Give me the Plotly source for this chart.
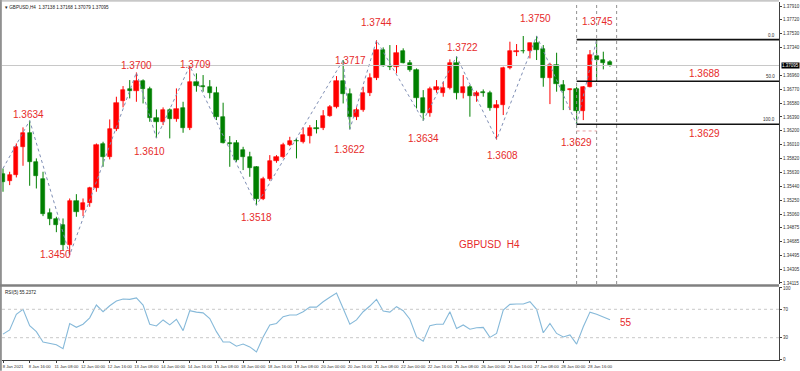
import plotly.graph_objects as go

# ---------------- data ----------------
symbol_title = "GBPUSD,H4  1.37138 1.37168 1.37079 1.37095"
rsi_title = "RSI(5) 55.2372"
chart_caption = "GBPUSD  H4"

time_labels = ["8 Jan 2021", "8 Jan 16:00", "11 Jan 08:00", "12 Jan 00:00", "12 Jan 16:00",
               "13 Jan 08:00", "14 Jan 00:00", "14 Jan 16:00", "15 Jan 08:00", "18 Jan 00:00",
               "18 Jan 16:00", "19 Jan 08:00", "20 Jan 00:00", "20 Jan 16:00", "21 Jan 08:00",
               "22 Jan 00:00", "22 Jan 16:00", "25 Jan 08:00", "26 Jan 00:00", "26 Jan 16:00",
               "27 Jan 08:00", "28 Jan 00:00", "28 Jan 16:00"]
bars_per_label = 4

opens = [1.35607, 1.35511, 1.35593, 1.35981, 1.36164, 1.35767, 1.35534, 1.35076, 1.34990, 1.34916,
         1.34629, 1.35236, 1.35113, 1.35214, 1.35410, 1.36018, 1.35844, 1.36219, 1.36608, 1.36767,
         1.36745, 1.36882, 1.36772, 1.36370, 1.36324, 1.36484, 1.36356, 1.36507, 1.36233, 1.36864,
         1.36818, 1.36804, 1.36722, 1.36393, 1.36036, 1.36027, 1.35936, 1.35844, 1.35707, 1.35264,
         1.35533, 1.35789, 1.35835, 1.36004, 1.36063, 1.36050, 1.36127, 1.36233, 1.36233, 1.36406,
         1.36521, 1.36882, 1.36703, 1.36393, 1.36484, 1.36713, 1.36918, 1.37307, 1.37092, 1.37078,
         1.37293, 1.37133, 1.37032, 1.36644, 1.36438, 1.36758, 1.36722, 1.36790, 1.37124, 1.36713,
         1.36804, 1.36676, 1.36736, 1.36722, 1.36507, 1.36553, 1.37055, 1.37275, 1.37297, 1.37293,
         1.37398, 1.37316, 1.36918, 1.37101, 1.36827, 1.36758, 1.36767, 1.36475, 1.36804, 1.37224,
         1.37170, 1.37138]
highs = [1.35684, 1.35639, 1.36027, 1.36247, 1.36340, 1.35822, 1.35639, 1.35136, 1.35022, 1.34999,
         1.35273, 1.35332, 1.35273, 1.35433, 1.36027, 1.36050, 1.36356, 1.36667, 1.36813, 1.36895,
         1.37000, 1.36905, 1.36804, 1.36493, 1.36521, 1.36507, 1.36781, 1.36598, 1.37090, 1.36987,
         1.36964, 1.36895, 1.36804, 1.36585, 1.36128, 1.36073, 1.35981, 1.35913, 1.35716, 1.35570,
         1.35867, 1.35867, 1.36036, 1.36118, 1.36096, 1.36247, 1.36278, 1.36347, 1.36484, 1.36553,
         1.36950, 1.37170, 1.36781, 1.36521, 1.36804, 1.36987, 1.37440, 1.37343, 1.37375, 1.37375,
         1.37330, 1.37170, 1.37055, 1.36758, 1.36804, 1.36895, 1.36873, 1.37179, 1.37220, 1.36964,
         1.36827, 1.36749, 1.36767, 1.36749, 1.36621, 1.37078, 1.37421, 1.37389, 1.37499, 1.37407,
         1.37500, 1.37375, 1.37133, 1.37270, 1.36895, 1.36781, 1.36804, 1.36813, 1.37307, 1.37450,
         1.37284, 1.37168]
lows = [1.35365, 1.35456, 1.35561, 1.35721, 1.35447, 1.35410, 1.35031, 1.34907, 1.34811, 1.34565,
        1.34500, 1.35022, 1.35031, 1.35159, 1.35365, 1.35707, 1.35808, 1.36196, 1.36521, 1.36644,
        1.36598, 1.36575, 1.36324, 1.36100, 1.36278, 1.36096, 1.36324, 1.36173, 1.36210, 1.36736,
        1.36736, 1.36644, 1.36347, 1.36027, 1.35707, 1.35776, 1.35662, 1.35570, 1.35180, 1.35250,
        1.35515, 1.35762, 1.35822, 1.35990, 1.35822, 1.36027, 1.36027, 1.36164, 1.36210, 1.36393,
        1.36507, 1.36575, 1.36220, 1.36347, 1.36461, 1.36676, 1.36895, 1.37078, 1.37032, 1.36987,
        1.37124, 1.37010, 1.36507, 1.36340, 1.36393, 1.36722, 1.36667, 1.36767, 1.36630, 1.36644,
        1.36393, 1.36598, 1.36667, 1.36475, 1.36080, 1.36416, 1.37042, 1.37224, 1.37261, 1.37192,
        1.37170, 1.36804, 1.36566, 1.36736, 1.36484, 1.36484, 1.36290, 1.36347, 1.36795, 1.36873,
        1.37042, 1.37079]
closes = [1.35502, 1.35593, 1.35981, 1.36164, 1.35767, 1.35584, 1.35067, 1.34990, 1.34907, 1.34629,
          1.35236, 1.35090, 1.35214, 1.35410, 1.36004, 1.35844, 1.36219, 1.36585, 1.36758, 1.36745,
          1.36882, 1.36772, 1.36370, 1.36324, 1.36484, 1.36356, 1.36493, 1.36233, 1.36873, 1.36818,
          1.36799, 1.36722, 1.36393, 1.36036, 1.36018, 1.35799, 1.35835, 1.35684, 1.35264, 1.35533,
          1.35789, 1.35835, 1.36004, 1.36063, 1.36059, 1.36141, 1.36233, 1.36228, 1.36406, 1.36521,
          1.36882, 1.36703, 1.36393, 1.36484, 1.36713, 1.36918, 1.37307, 1.37087, 1.37069, 1.37270,
          1.37133, 1.37032, 1.36644, 1.36438, 1.36767, 1.36804, 1.36790, 1.37124, 1.36713, 1.36804,
          1.36676, 1.36722, 1.36722, 1.36507, 1.36553, 1.37055, 1.37293, 1.37297, 1.37293, 1.37398,
          1.37307, 1.36918, 1.37101, 1.36841, 1.36749, 1.36776, 1.36475, 1.36804, 1.37238, 1.37170,
          1.37124, 1.37095]

rsi5 = [35, 41, 63, 70, 47, 38.5, 24, 22, 20, 14.5, 50, 44.6, 49, 58, 76, 66.6, 75, 81.7, 84.5, 84,
        86, 76, 49, 46.5, 55, 48, 56, 40, 68, 66, 65, 57, 38.5, 24, 24, 18, 21, 17, 10, 31,
        48, 50, 59.6, 62, 62, 66.6, 73, 73, 80.7, 87, 93, 71, 49, 55, 66.6, 74.6, 84, 67.6, 66, 73.7,
        68, 56, 31, 25, 47, 49, 49, 66.6, 43, 48, 42, 44, 44.6, 30.5, 36, 69, 77, 77.5, 77.5, 80.7,
        70, 37, 50, 36, 31, 34, 21, 45.5, 66, 63, 59.6, 55.24]
rsi_levels = [30, 70]

swing_idx = [0, 4, 10, 20, 23, 28, 38, 51, 52, 56, 63, 68, 74, 80, 86, 89]
swing_price = [1.35684, 1.3634, 1.3450, 1.3700, 1.3610, 1.3709, 1.3518, 1.3717, 1.3622,
               1.3744, 1.3634, 1.3722, 1.3608, 1.3750, 1.3629, 1.3745]

fib_names = ["0.0", "50.0", "100.0"]
fib_levels = [1.3745, 1.3688, 1.3629]
fib_time_idx = [86, 89, 92]
fib_marker_price = 1.36198

price_ticks = [1.37910, 1.37720, 1.37530, 1.37340, 1.36960, 1.36770, 1.36580, 1.36390, 1.36200,
               1.36010, 1.35820, 1.35630, 1.35440, 1.35250, 1.35060, 1.34875, 1.34685, 1.34495,
               1.34305, 1.34115]
rsi_ticks = [0, 30, 70, 100]

# ---------------- styles ----------------
UP = "#ff0000"
DOWN = "#008000"
LABEL_RED = "#e62a2a"
FONT = "Liberation Sans"
AXIS_TXT = "#303030"

n = len(closes)
idx = list(range(n))
up = [i for i in idx if closes[i] >= opens[i]]
dn = [i for i in idx if closes[i] < opens[i]]

fig = go.Figure()


def wick_xy(ids):
    xs, ys = [], []
    for i in ids:
        xs += [i, i, None]
        ys += [lows[i], highs[i], None]
    return xs, ys


for ids, col in ((up, UP), (dn, DOWN)):
    wx, wy = wick_xy(ids)
    fig.add_trace(go.Scatter(x=wx, y=wy, mode="lines", line=dict(color=col, width=1),
                             xaxis="x2", yaxis="y", hoverinfo="skip", showlegend=False))
for ids, col in ((up, UP), (dn, DOWN)):
    fig.add_trace(go.Bar(x=ids,
                         base=[min(opens[i], closes[i]) for i in ids],
                         y=[abs(closes[i] - opens[i]) for i in ids],
                         width=0.64, marker=dict(color=col, line=dict(color=col, width=0.6)),
                         xaxis="x2", yaxis="y", showlegend=False))

# zigzag
fig.add_trace(go.Scatter(x=swing_idx, y=swing_price, mode="lines",
                         line=dict(color="#7f8fb5", width=1, dash="dot"),
                         xaxis="x2", yaxis="y", showlegend=False, hoverinfo="skip"))

# RSI
fig.add_trace(go.Scatter(x=idx, y=rsi5, mode="lines", line=dict(color="#86b9d9", width=1.1),
                         xaxis="x", yaxis="y2", showlegend=False))

# ---------------- layout ----------------
W, H = 800, 371
ml, mr, mt, mb = 2, 21, 2, 11
plot_h = H - mt - mb
px_per_bar = 6.67
x_start = -0.15
x_end = x_start + (W - ml - mr) / px_per_bar

main_dom = [(H - mb - 284) / plot_h, 1]
rsi_dom = [0, (H - mb - 287) / plot_h]

fig.update_layout(
    width=W, height=H, margin=dict(l=ml, r=mr, t=mt, b=mb, autoexpand=False),
    paper_bgcolor="white", plot_bgcolor="white", barmode="overlay", bargap=0,
    font=dict(family=FONT, color=AXIS_TXT, size=5),
    xaxis=dict(domain=[0, 1], anchor="y2", range=[x_start, x_end],
               tickvals=[k * bars_per_label for k in range(len(time_labels))], ticktext=time_labels,
               tickangle=0,
               tickfont=dict(size=4.2, color=AXIS_TXT), ticks="outside", ticklen=2, tickcolor="#404040",
               ticklabelshift=10, ticklabelstandoff=0, showgrid=False, zeroline=False,
               showline=True, linecolor="#404040", linewidth=1),
    xaxis2=dict(domain=[0, 1], anchor="y", matches="x", range=[x_start, x_end],
                showticklabels=False, showgrid=False, zeroline=False, ticks=""),
    yaxis=dict(domain=main_dom, side="right", anchor="x2",
               range=[1.34101, 1.37965], tickvals=price_ticks,
               ticktext=[f"{v:.5f}" for v in price_ticks],
               tickfont=dict(size=4.5, color=AXIS_TXT), ticks="outside", ticklen=2, tickcolor="#404040",
               showgrid=False, zeroline=False, showline=True, linecolor="#404040", linewidth=1),
    yaxis2=dict(domain=rsi_dom, side="right", anchor="x", range=[-1.4, 101.4],
                tickvals=rsi_ticks, ticktext=[str(v) for v in rsi_ticks],
                tickfont=dict(size=4.5, color=AXIS_TXT), ticks="outside", ticklen=2, tickcolor="#404040",
                showgrid=False, zeroline=False, showline=True, linecolor="#404040", linewidth=1),
)

shapes = []
# frame
shapes.append(dict(type="line", xref="paper", yref="paper", x0=-0.0015, x1=-0.0015, y0=-0.03, y1=1.01,
                   line=dict(color="#909090", width=2)))
shapes.append(dict(type="line", xref="paper", yref="paper", x0=-0.01, x1=1.0, y0=1.003, y1=1.003,
                   line=dict(color="#a0a0a0", width=1)))
# panel separator
sep_y = (H - mb - 285.5) / plot_h
shapes.append(dict(type="line", xref="paper", yref="paper", x0=-0.01, x1=1.0, y0=sep_y, y1=sep_y,
                   line=dict(color="#808080", width=2.5)))
# current price line
shapes.append(dict(type="line", xref="paper", yref="y", x0=0, x1=1, y0=closes[-1], y1=closes[-1],
                   line=dict(color="#c8c8c8", width=1)))
# RSI levels
for lv in rsi_levels:
    shapes.append(dict(type="line", xref="paper", yref="y2", x0=0, x1=1, y0=lv, y1=lv,
                       line=dict(color="#c8c8c8", width=1, dash="dot")))
# fibo verticals
for fi in fib_time_idx:
    shapes.append(dict(type="line", xref="x2", yref="y domain", x0=fi, x1=fi, y0=0, y1=1,
                       line=dict(color="#909090", width=1, dash="dot")))
# fibo levels
for lv in fib_levels:
    shapes.append(dict(type="line", xref="x2", yref="y", x0=fib_time_idx[0], x1=x_end + 1, y0=lv, y1=lv,
                       line=dict(color="#111111", width=1.6)))
shapes.append(dict(type="line", xref="x2", yref="y", x0=fib_time_idx[0], x1=fib_time_idx[1],
                   y0=fib_marker_price, y1=fib_marker_price,
                   line=dict(color="#e8a0a0", width=1, dash="dot")))
fig.update_layout(shapes=shapes)

ann = []
# swing labels (positions relative to the swing points)
label_shift = {4: (-1, 6), 10: (-14, 0), 20: (0, 7), 23: (-7, -13), 28: (6, 1), 38: (0, -12),
               51: (7, 0), 52: (0, -20), 56: (0, 18), 63: (0, -18), 68: (6, 9), 74: (6, -16),
               80: (-1, 17), 86: (0, -18), 89: (1, 18)}
for i, p in zip(swing_idx, swing_price):
    if i not in label_shift:
        continue
    dx, dy = label_shift[i]
    ann.append(dict(x=i, y=p, xref="x2", yref="y", text=f"{p:.4f}", showarrow=False,
                    xshift=dx, yshift=dy, font=dict(family=FONT, size=10, color=LABEL_RED)))
# fib price labels
for lv, dy in ((fib_levels[1], 8), (fib_levels[2], -9)):
    ann.append(dict(x=105.1, y=lv, xref="x2", yref="y", text=f"{lv:.4f}", showarrow=False,
                    yshift=dy, font=dict(family=FONT, size=10, color=LABEL_RED)))
# fib level names
for nm, lv in zip(fib_names, fib_levels):
    ann.append(dict(x=0.998, y=lv, xref="paper", yref="y", text=nm, showarrow=False,
                    xanchor="right", yanchor="bottom", yshift=0,
                    font=dict(family=FONT, size=4.5, color="#303030")))
# caption
ann.append(dict(x=73, y=1.3464, xref="x2", yref="y", text=chart_caption, showarrow=False,
                font=dict(family=FONT, size=10, color=LABEL_RED)))
# RSI value label
ann.append(dict(x=n - 1, y=rsi5[-1], xref="x", yref="y2", text=f"{round(rsi5[-1])}", showarrow=False,
                xanchor="left", xshift=8, yshift=-3, font=dict(family=FONT, size=10, color=LABEL_RED)))
# titles
ann.append(dict(x=0, y=1, xref="paper", yref="paper", text="▾ " + symbol_title, showarrow=False,
                xanchor="left", yanchor="top", xshift=1, yshift=-1,
                font=dict(family=FONT, size=4.6, color="#202020")))
ann.append(dict(x=0, y=1, xref="paper", yref="y2 domain", text=rsi_title, showarrow=False,
                xanchor="left", yanchor="top", xshift=1, yshift=-1,
                font=dict(family=FONT, size=4.6, color="#202020")))
# current price tag
ann.append(dict(x=1, y=closes[-1], xref="paper", yref="y", text=f"{closes[-1]:.5f}", showarrow=False,
                xanchor="left", xshift=2, bgcolor="#000000", borderpad=0,
                font=dict(family=FONT, size=4.5, color="#ffffff")))
fig.update_layout(annotations=ann)

fig.write_html("out.html", config={"displayModeBar": False},
               post_script="document.body.style.margin='0';document.body.style.padding='0';"
                           "document.body.style.overflow='hidden';")
